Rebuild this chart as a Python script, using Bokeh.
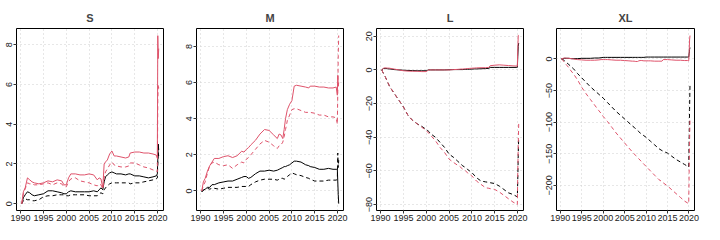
from bokeh.plotting import figure
from bokeh.layouts import row
from bokeh.models import Range1d, FixedTicker
from bokeh.embed import file_html
from bokeh.resources import INLINE

RED = "#DF536B"
BLACK = "#000000"
FONT = "Liberation Sans"

# time axis (years)
X = [1990.25, 1990.6, 1991, 1991.5, 1992, 1992.5, 1993, 1994, 1995, 1996,
     1997, 1998, 1999, 1999.5, 2000, 2000.5, 2001, 2002, 2003, 2004,
     2005, 2006, 2006.8, 2007.2, 2007.6, 2008, 2008.3, 2008.6, 2009, 2009.5,
     2010, 2010.5, 2011, 2012, 2013, 2013.7, 2014, 2015, 2016, 2017,
     2018, 2019, 2019.7, 2019.95, 2020.05, 2020.15, 2020.25]
XTICKS = [1990, 1995, 2000, 2005, 2010, 2015, 2020]
XLIM = [1989.1, 2021.3]

TITLES = ["S", "M", "L", "XL"]

# ---- S ----
S_black_solid = [0.0, 0.3, 0.45, 0.6, 0.55, 0.45, 0.4, 0.45, 0.5, 0.65,
                 0.65, 0.6, 0.55, 0.5, 0.5, 0.6, 0.65, 0.6, 0.6, 0.6,
                 0.6, 0.65, 0.6, 0.7, 0.8, 0.7, 1.1, 1.35, 1.45, 1.55,
                 1.6, 1.55, 1.5, 1.5, 1.45, 1.5, 1.5, 1.4, 1.4, 1.35,
                 1.3, 1.35, 1.4, 1.5, 2.2, 3.0, 2.7]
S_black_dash = [0.0, 0.15, 0.25, 0.2, 0.2, 0.15, 0.15, 0.2, 0.35, 0.4,
                0.4, 0.45, 0.45, 0.45, 0.4, 0.4, 0.45, 0.45, 0.45, 0.45,
                0.4, 0.4, 0.4, 0.5, 0.55, 0.5, 0.7, 0.8, 0.9, 1.0,
                1.05, 1.05, 1.05, 1.05, 1.05, 1.05, 1.0, 1.05, 1.05, 1.1,
                1.15, 1.2, 1.25, 1.3, 2.0, 2.6, 2.4]
S_red_solid = [0.0, 0.6, 0.8, 1.3, 1.2, 1.1, 1.05, 1.0, 1.05, 1.15,
               1.1, 1.2, 1.15, 0.95, 0.95, 1.3, 1.5, 1.5, 1.45, 1.45,
               1.5, 1.45, 1.2, 1.3, 1.25, 0.8, 2.0, 2.1, 2.2, 2.5,
               2.65, 2.4, 2.4, 2.35, 2.3, 2.35, 2.55, 2.6, 2.6, 2.55,
               2.55, 2.5, 2.45, 2.3, 8.45, 7.3, 7.8]
S_red_dash = [0.0, 0.5, 0.75, 1.05, 1.0, 1.0, 0.95, 0.95, 1.0, 1.05,
              0.95, 1.05, 1.0, 0.85, 0.85, 1.1, 1.25, 1.3, 1.15, 1.1,
              1.05, 0.95, 0.9, 1.0, 0.95, 0.75, 1.3, 1.6, 1.75, 1.95,
              2.1, 1.95, 1.9, 1.85, 1.85, 1.9, 2.05, 2.05, 1.95, 1.85,
              1.8, 1.7, 1.65, 1.6, 5.2, 6.0, 5.8]
S_yticks = [0, 2, 4, 6, 8]
S_ylim = [-0.34, 8.81]

# ---- M ----
M_black_solid = [-0.05, 0.05, 0.1, 0.2, 0.2, 0.35, 0.35, 0.45, 0.5, 0.55,
                 0.55, 0.65, 0.75, 0.8, 0.8, 0.7, 0.75, 0.95, 1.1, 1.1,
                 1.15, 1.1, 1.15, 1.2, 1.25, 1.3, 1.35, 1.35, 1.4, 1.45,
                 1.55, 1.65, 1.65, 1.6, 1.45, 1.4, 1.35, 1.3, 1.2, 1.2,
                 1.25, 1.2, 1.2, 1.2, 0.5, -0.2, -0.7]
M_black_dash = [-0.05, 0.05, 0.1, 0.15, 0.1, 0.15, 0.15, 0.1, 0.15, 0.2,
                0.2, 0.2, 0.25, 0.25, 0.25, 0.25, 0.35, 0.5, 0.6, 0.65,
                0.65, 0.65, 0.6, 0.65, 0.7, 0.7, 0.65, 0.7, 0.8, 0.9,
                1.0, 0.95, 0.9, 0.85, 0.75, 0.7, 0.65, 0.55, 0.55, 0.55,
                0.6, 0.6, 0.6, 0.65, 2.1, 1.3, 1.7]
M_red_solid = [0.0, 0.5, 0.7, 1.1, 1.4, 1.6, 1.8, 1.8, 1.9, 1.95,
               1.85, 1.95, 2.2, 2.15, 2.3, 2.4, 2.55, 2.8, 3.15, 3.4,
               3.35, 3.1, 2.9, 3.15, 3.1, 2.9, 3.4, 4.0, 4.5, 4.8,
               5.0, 5.8, 5.85, 5.8, 5.75, 5.7, 5.8, 5.8, 5.75, 5.75,
               5.7, 5.7, 5.75, 5.3, 6.4, 5.8, 6.0]
M_red_dash = [0.0, 0.3, 0.5, 1.0, 1.4, 1.55, 1.6, 1.45, 1.4, 1.45,
              1.25, 1.45, 1.6, 1.55, 1.75, 1.85, 2.0, 2.3, 2.6, 2.8,
              2.7, 2.5, 2.35, 2.5, 2.55, 2.7, 3.0, 3.4, 3.9, 4.2,
              4.5, 4.55, 4.55, 4.45, 4.35, 4.35, 4.35, 4.3, 4.2, 4.2,
              4.1, 4.1, 4.05, 3.7, 5.5, 7.5, 8.6]
M_yticks = [0, 2, 4, 6, 8]
M_ylim = [-1.08, 8.99]

# ---- L ----
L_black_solid = [0.0, 0.8, 0.9, 0.7, 0.6, 0.4, 0.2, 0.0, -0.2, -0.3,
                 -0.4, -0.5, -0.5, -0.5, -0.5, 0.0, 0.0, 0.0, 0.0, 0.0,
                 0.1, 0.2, 0.2, 0.2, 0.2, 0.2, 0.3, 0.3, 0.4, 0.4,
                 0.5, 0.6, 0.6, 0.7, 0.8, 0.9, 1.5, 1.5, 1.5, 1.5,
                 1.5, 1.5, 1.5, 1.5, 8.0, 14.0, 16.0]
L_black_dash = [0.0, -2, -4, -7, -10, -12, -14, -18, -22, -27,
                -30, -32, -33.5, -34.5, -35, -36.5, -38, -40, -43, -46,
                -50, -52, -54, -55, -56, -57, -57.5, -58, -59, -60,
                -61, -62.5, -64, -66, -66.5, -66.8, -67, -67.5, -69, -71,
                -73, -74, -75, -75.5, -65, -50, -40]
L_red_solid = [0.0, 1.0, 1.2, 1.1, 1.0, 0.7, 0.5, 0.0, -0.5, -0.7,
               -0.8, -0.8, -1.0, -1.0, -1.0, 0.0, 0.0, 0.0, 0.0, 0.0,
               0.0, 0.2, 0.3, 0.4, 0.5, 0.5, 0.6, 0.7, 0.8, 0.9,
               1.0, 1.1, 1.2, 1.3, 1.3, 1.5, 2.5, 2.8, 3.0, 2.8,
               2.6, 2.4, 2.3, 2.2, 12.0, 20.5, 20.5]
L_red_dash = [0.0, -2, -4, -7, -10, -12, -14, -18, -22, -27,
              -30, -32, -34, -35, -36, -37.5, -39, -42, -46, -49,
              -53, -55, -56.5, -57, -58, -59, -59.5, -60, -61, -62,
              -63, -64.5, -66, -68, -70, -70.3, -70.5, -71, -72.5, -74.5,
              -76.5, -78.5, -79.5, -80, -60, -45, -32]
L_yticks = [-80, -60, -40, -20, 0, 20]
L_ylim = [-83.5, 24.6]

# ---- XL ----
XL_black_solid = [0.0, 0.5, 1.0, 1.0, 1.0, 0.5, 0.5, 0.5, 1.0, 1.0,
                  1.0, 1.5, 1.5, 2.0, 2.5, 2.5, 2.5, 2.5, 2.5, 2.5,
                  2.5, 2.5, 2.5, 2.5, 2.5, 2.5, 2.5, 2.5, 2.5, 2.5,
                  3.0, 3.0, 3.0, 3.0, 3.0, 3.0, 3.0, 3.0, 3.0, 3.0,
                  3.0, 3.0, 3.0, 3.0, 8.0, 15.0, 18.0]
XL_black_dash = [0.0, -1, -3, -6, -9, -12, -15, -23, -30, -37,
                 -44, -50, -56, -59, -62, -65.5, -69, -76, -83, -89,
                 -95, -101, -106, -108, -111, -113, -115, -117, -119, -121.5,
                 -124, -127, -130, -136, -142, -145, -146, -149, -154, -159,
                 -163, -167, -170, -171, -130, -80, -40]
XL_red_solid = [0.0, 1.0, 1.5, 1.2, 1.0, 0.5, 0.0, -1.0, -1.5, -2.0,
                -2.0, -2.0, -1.5, -1.0, -1.0, -1.0, -1.0, -1.5, -2.0, -2.0,
                -2.5, -3.0, -3.5, -3.5, -4.0, -4.0, -3.0, -2.5, -2.5, -3.0,
                -3.0, -3.0, -3.0, -3.5, -3.5, -3.5, -1.0, -1.0, -1.5, -2.0,
                -2.0, -2.5, -2.5, -3.0, 10.0, 30.0, 37.0]
XL_red_dash = [0.0, -2, -6, -10, -14, -19, -23, -33, -45, -55,
               -64, -73, -82, -86, -91, -95, -99, -108, -117, -125,
               -133, -141, -147, -150, -153, -156, -158, -160, -163, -166.5,
               -170, -173.5, -177, -184, -191, -194, -196, -201, -207, -213,
               -219, -225, -228, -229, -180, -130, -95]
XL_yticks = [-200, -150, -100, -50, 0]
XL_ylim = [-239.8, 48.2]

PANELS = [
    (S_black_solid, S_black_dash, S_red_solid, S_red_dash, S_yticks, S_ylim),
    (M_black_solid, M_black_dash, M_red_solid, M_red_dash, M_yticks, M_ylim),
    (L_black_solid, L_black_dash, L_red_solid, L_red_dash, L_yticks, L_ylim),
    (XL_black_solid, XL_black_dash, XL_red_solid, XL_red_dash, XL_yticks, XL_ylim),
]
WIDTHS = [180, 180, 180, 164]
BORDER_L = [16, 16, 16, 16]
BORDER_R = [17, 17, 17, 10]

figs = []
for i, (bs, bd, rs, rd, yt, yl) in enumerate(PANELS):
    p = figure(width=WIDTHS[i], height=224, output_backend="svg", toolbar_location=None,
               x_range=Range1d(XLIM[0], XLIM[1]), y_range=Range1d(yl[0], yl[1]),
               min_border_left=BORDER_L[i], min_border_right=BORDER_R[i],
               min_border_top=28, min_border_bottom=14)
    p.title.text = TITLES[i]
    p.title.align = "center"
    p.title.text_font = FONT
    p.title.text_font_size = "11px"
    p.title.text_font_style = "bold"
    p.title.standoff = 10
    p.outline_line_color = "black"
    p.outline_line_width = 1
    p.background_fill_color = "white"
    p.border_fill_color = "white"
    p.xaxis.ticker = FixedTicker(ticks=XTICKS)
    p.yaxis.ticker = FixedTicker(ticks=yt)
    for ax in (p.xaxis[0], p.yaxis[0]):
        ax.axis_line_color = None
        ax.minor_tick_line_color = None
        ax.major_tick_in = 0
        ax.major_tick_out = 3
        ax.major_tick_line_color = "#333333"
        ax.major_label_standoff = 1
        ax.major_label_text_font = FONT
        ax.major_label_text_font_size = "9px"
        ax.major_label_text_color = "#222222"
    p.yaxis.major_label_orientation = "vertical"
    for g in (p.xgrid[0], p.ygrid[0]):
        g.grid_line_color = "#cfcfcf"
        g.grid_line_dash = "1 3"
        g.grid_line_width = 1
    p.line(X, bs, line_color=BLACK, line_width=1)
    p.line(X, bd, line_color=BLACK, line_width=1, line_dash="4 3")
    p.line(X, rs, line_color=RED, line_width=1)
    p.line(X, rd, line_color=RED, line_width=1, line_dash="4 3")
    figs.append(p)

layout = row(*figs, spacing=0)
open("out.html", "w").write(file_html(layout, INLINE))
